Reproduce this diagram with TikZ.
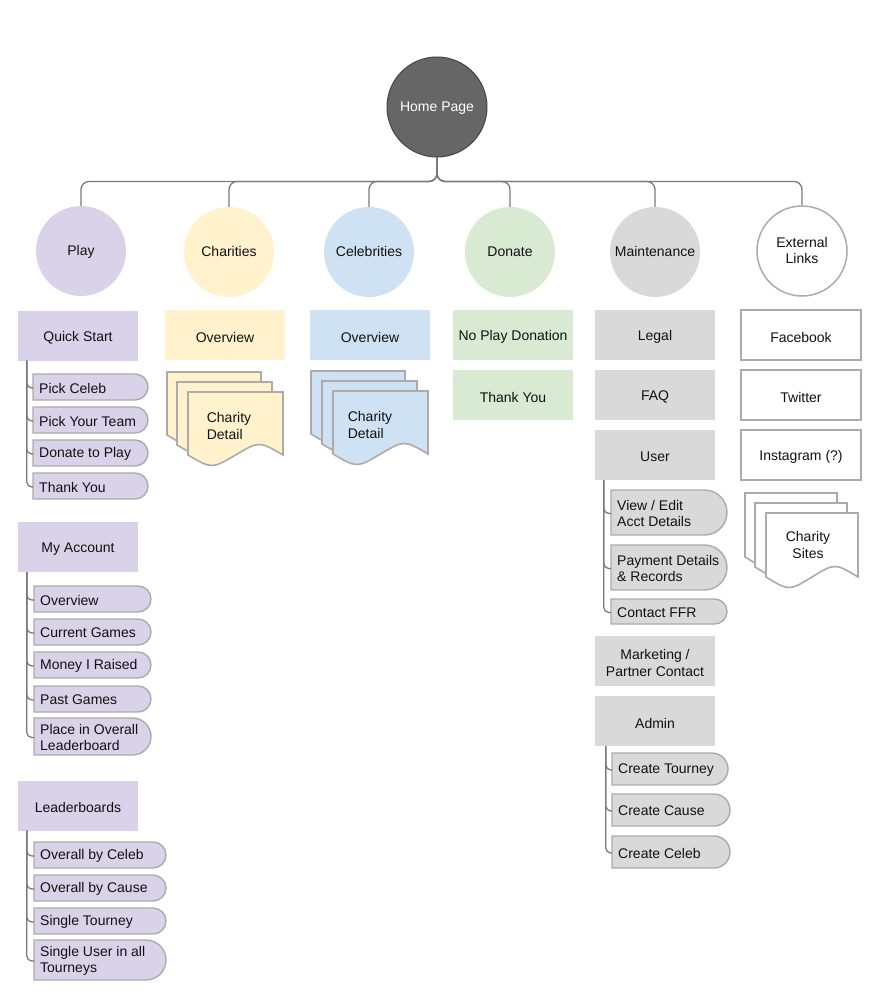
\documentclass[tikz,border=0pt]{standalone}
\usepackage{fontspec}
\setmainfont{Liberation Sans}
\begin{document}
\definecolor{homefill}{HTML}{666666}
\definecolor{homeline}{HTML}{454545}
\definecolor{playc}{HTML}{D9D2E9}
\definecolor{charc}{HTML}{FFF2CC}
\definecolor{celebc}{HTML}{CFE2F3}
\definecolor{donc}{HTML}{D9EAD3}
\definecolor{maintc}{HTML}{D9D9D9}
\definecolor{edgec}{HTML}{7A7A7A}
\definecolor{outlinec}{HTML}{ABABAB}
\definecolor{txt}{HTML}{111111}
\begin{tikzpicture}[x=1pt,y=1pt,
  font=\fontsize{14}{16.5}\selectfont, text=txt,
  circ/.style={circle, minimum size=90pt, inner sep=0pt, align=center, text depth=1pt},
  lvl/.style={rectangle, minimum width=120pt, minimum height=50pt, inner sep=0pt, align=center},
  lbl/.style={yshift=-2pt, align=center},
  outlined/.style={draw=outlinec, line width=1.5pt, fill=white},
  conn/.style={draw=edgec, line width=1.3pt, rounded corners=8pt},
  branch/.style={draw=edgec, line width=1.3pt, rounded corners=5pt},
  tabline/.style={draw=outlinec, line width=1.4pt},
  tabtext/.style={inner xsep=6pt, inner ysep=0pt, align=left},
  docline/.style={line width=1.6pt, line join=miter},
]
\useasboundingbox (0,0) rectangle (881,-1000);

% a tab: name, left x, top y, width, height, fill, text
\newcommand\tabbox[7]{%
  \pgfmathsetmacro\tabr{#5/2}%
  \draw[tabline, fill=#6] (#2,-#3) -- ({#2+#4-\tabr},-#3)
     arc[start angle=90, end angle=-90, radius=\tabr] -- (#2,{-#3-#5}) -- cycle;
  \node[tabtext, anchor=west] (#1) at (#2,{-#3-#5/2-1}) {#7};
}
% a page with a wavy foot: left x, top y, width, side height, fill, line colour
\newcommand\docpage[6]{%
  \draw[docline, fill=#5, draw=#6] (#1,-#2) -- ({#1+#3},-#2) -- ({#1+#3},{-#2-#4})
    .. controls ({#1+0.75*#3},{-#2-#4+14}) .. ({#1+0.5*#3},{-#2-#4})
    .. controls ({#1+0.25*#3},{-#2-#4-14}) .. (#1,{-#2-#4}) -- cycle;
}
% a filled box with its caption: name, centre, fill style, text
\newcommand\lvlbox[4]{%
  \node[lvl, #3] (#1) at (#2) {};
  \node[lbl] (#1-text) at (#1) {#4};
}

% ---- top level ----
\node[circ, fill=homefill, draw=homeline, line width=1pt, minimum size=100pt, text=white] (home) at (437,-107) {Home Page};

\node[circ, fill=playc]   (play)  at (81,-251)  {Play};
\node[circ, fill=charc]   (char)  at (229,-252) {Charities};
\node[circ, fill=celebc]  (celeb) at (369,-252) {Celebrities};
\node[circ, fill=donc]    (don)   at (510,-252) {Donate};
\node[circ, fill=maintc]  (maint) at (655,-252) {Maintenance};
\node[circ, outlined]     (ext)   at (802,-251) {External\\Links};

\foreach \c in {play,char,celeb,don,maint,ext}
  \draw[conn] (home.south) -- ++(0,-24) -| (\c.north);

% ---- Play ----
\lvlbox{quick}{78,-335.5}{fill=playc}{Quick Start}
\tabbox{pickceleb}{33}{374}{115}{26}{playc}{Pick Celeb}
\tabbox{pickteam}{33}{407}{115}{26}{playc}{Pick Your Team}
\tabbox{donplay}{33}{440}{115}{26}{playc}{Donate to Play}
\tabbox{thanksplay}{33}{473}{115}{26}{playc}{Thank You}
\foreach \t in {pickceleb,pickteam,donplay,thanksplay}
  \draw[branch] ([xshift=9pt]quick.south west) |- (\t.west);

\lvlbox{account}{78,-547}{fill=playc}{My Account}
\tabbox{accov}{34}{586}{117}{26}{playc}{Overview}
\tabbox{curgames}{34}{619}{117}{26}{playc}{Current Games}
\tabbox{money}{34}{652}{117}{26}{playc}{Money I Raised}
\tabbox{pastgames}{34}{686}{117}{26}{playc}{Past Games}
\tabbox{place}{34}{718}{117}{37}{playc}{Place in Overall\\Leaderboard}
\foreach \t in {accov,curgames,money,pastgames,place}
  \draw[branch] ([xshift=9pt]account.south west) |- (\t.west);

\lvlbox{boards}{78,-805.5}{fill=playc}{Leaderboards}
\tabbox{bycelebs}{34}{842}{132}{26}{playc}{Overall by Celeb}
\tabbox{bycause}{34}{875}{132}{26}{playc}{Overall by Cause}
\tabbox{single}{34}{908}{132}{26}{playc}{Single Tourney}
\tabbox{singleuser}{34}{940}{132}{40}{playc}{Single User in all\\Tourneys}
\foreach \t in {bycelebs,bycause,single,singleuser}
  \draw[branch] ([xshift=9pt]boards.south west) |- (\t.west);

% ---- Charities ----
\lvlbox{charov}{225,-335}{fill=charc}{Overview}
\docpage{167}{372}{94}{63}{charc}{outlinec}
\docpage{177}{382}{95}{63}{charc}{outlinec}
\docpage{188}{392}{95}{63}{charc}{outlinec}
\node[align=left] (chardetail) at (229,-426) {Charity\\Detail};

% ---- Celebrities ----
\lvlbox{celebov}{370,-335}{fill=celebc}{Overview}
\docpage{311}{371}{94}{63}{celebc}{outlinec}
\docpage{322}{381}{95}{63}{celebc}{outlinec}
\docpage{333}{391}{95}{63}{celebc}{outlinec}
\node[align=left] (celebdetail) at (370,-425) {Charity\\Detail};

% ---- Donate ----
\lvlbox{noplay}{513,-335}{fill=donc}{No Play Donation}
\lvlbox{thanksdon}{513,-395}{fill=donc}{Thank You}

% ---- Maintenance ----
\lvlbox{legal}{655,-335}{fill=maintc}{Legal}
\lvlbox{faq}{655,-395}{fill=maintc}{FAQ}
\lvlbox{user}{655,-455}{fill=maintc}{User}
\tabbox{viewedit}{611}{490}{116}{45}{maintc}{View / Edit\\Acct Details}
\tabbox{payment}{611}{545}{116}{45}{maintc}{Payment Details\\\& Records}
\tabbox{contact}{611}{599}{116}{25}{maintc}{Contact FFR}
\foreach \t in {viewedit,payment,contact}
  \draw[branch] ([xshift=9pt]user.south west) |- (\t.west);

\lvlbox{marketing}{655,-661}{fill=maintc}{Marketing /\\Partner Contact}
\lvlbox{admin}{655,-721}{fill=maintc}{Admin}
\tabbox{mktourney}{612}{753}{116}{32}{maintc}{Create Tourney}
\tabbox{mkcause}{612}{794}{118}{32}{maintc}{Create Cause}
\tabbox{mkceleb}{612}{836}{118}{32}{maintc}{Create Celeb}
\foreach \t in {mktourney,mkcause,mkceleb}
  \draw[branch] ([xshift=11pt]admin.south west) |- (\t.west);

% ---- External links ----
\lvlbox{facebook}{801,-335}{outlined}{Facebook}
\lvlbox{twitter}{801,-395}{outlined}{Twitter}
\lvlbox{instagram}{801,-455}{outlined}{Instagram (?)}
\docpage{745}{493}{92}{64}{white}{outlinec}
\docpage{755}{503}{92}{64}{white}{outlinec}
\docpage{766}{513}{92}{64}{white}{outlinec}
\node[align=center] (sites) at (808,-545) {Charity\\Sites};
\end{tikzpicture}
\end{document}
